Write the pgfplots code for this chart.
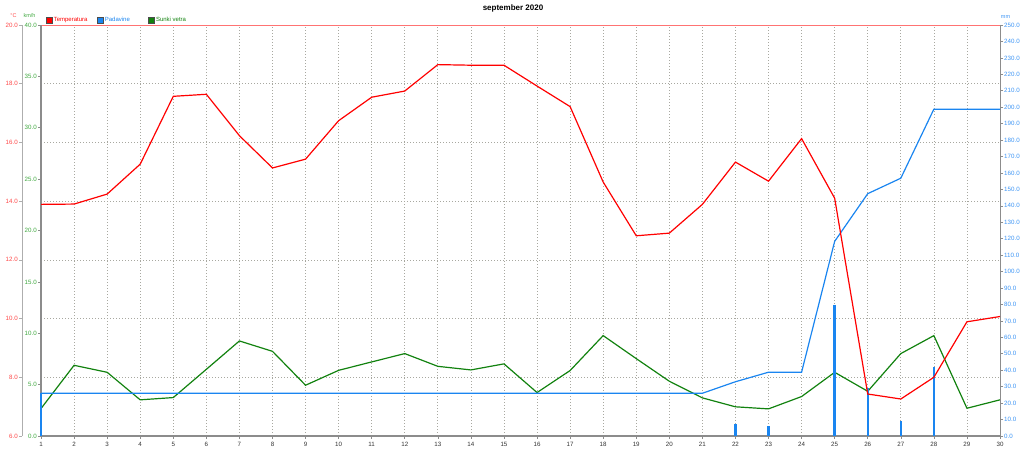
\documentclass[border=0pt]{standalone}
\usepackage{pgfplots}
\pgfplotsset{compat=1.18}
\usepackage{pgfplotstable}
\usepackage{fontspec}
\setmainfont{Liberation Sans}

\definecolor{tred}{HTML}{FF0000}
\definecolor{tredlab}{HTML}{FF4848}
\definecolor{wgreen}{HTML}{12820F}
\definecolor{wgreenlab}{HTML}{40A840}
\definecolor{pblue}{HTML}{1A85F0}
\definecolor{pbluelab}{HTML}{3D95F5}
\definecolor{axgray}{HTML}{8C8C8C}
\definecolor{gridgray}{HTML}{A8A8A0}

% daily temperature (C) and wind gusts (km/h)
\pgfplotstableread{
day temp wind
1  13.89 2.67
2  13.90 6.88
3  14.24 6.20
4  15.26 3.52
5  17.57 3.74
6  17.64 6.49
7  16.23 9.25
8  15.13 8.24
9  15.43 4.94
10 16.74 6.39
11 17.54 7.21
12 17.75 8.02
13 18.65 6.78
14 18.63 6.43
15 18.63 7.02
16 17.92 4.23
17 17.22 6.37
18 14.65 9.77
19 12.82 7.53
20 12.91 5.33
21 13.89 3.71
22 15.33 2.84
23 14.68 2.64
24 16.13 3.84
25 14.10 6.20
26 7.43  4.35
27 7.26  8.02
28 8.00  9.77
29 9.89  2.70
30 10.07 3.52
}\weather

% daily rain (mm)
\pgfplotstableread{
day mm
1  26.0
22 7.0
23 5.8
25 79.6
26 29.0
27 9.4
28 42.0
}\raindaily

% accumulated rain (mm)
\pgfplotstableread{
day cum
1  26.0
2  26.0
3  26.0
4  26.0
5  26.0
6  26.0
7  26.0
8  26.0
9  26.0
10 26.0
11 26.0
12 26.0
13 26.0
14 26.0
15 26.0
16 26.0
17 26.0
18 26.0
19 26.0
20 26.0
21 26.0
22 33.0
23 38.8
24 38.8
25 118.4
26 147.4
27 156.8
28 198.8
29 198.8
30 198.8
}\raincum

\pgfplotsset{
    base/.style={
        scale only axis,
        width=959pt, height=411pt,
        at={(0pt,0pt)}, anchor=south west,
        xmin=1, xmax=30,
        tick label style={font=\fontsize{6.2}{7}\selectfont},
        /pgf/number format/assume math mode=true,
    },
    onedec/.style={
        yticklabel style={/pgf/number format/fixed,
            /pgf/number format/fixed zerofill,
            /pgf/number format/precision=1},
    },
}

\begin{document}
\begin{tikzpicture}
\useasboundingbox (-41pt,-21pt) rectangle (983pt,436pt);

% frame, grid, day axis, legend
\begin{axis}[
    base,
    ymin=6, ymax=20,
    clip=false,
    axis line style={draw=none},
    xtick={1,...,30},
    xtick pos=lower,
    xtick align=outside,
    major tick length=2.5pt,
    x tick style={axgray, line width=0.6pt},
    xticklabel style={text=black!80},
    ytick={8,10,...,18},
    yticklabels={},
    y tick style={draw=none},
    xmajorgrids, ymajorgrids,
    major grid style={gridgray, line width=0.7pt, dash pattern=on 1pt off 2pt},
    legend style={at={(0,1)}, anchor=west, xshift=5pt, yshift=5pt,
        draw=none, fill=none, inner sep=0pt,
        font=\fontsize{6}{7}\selectfont,
        legend columns=-1,
        /tikz/every even column/.append style={column sep=0pt},
        nodes={inner sep=1.5pt}},
    legend image code/.code={\draw[#1, draw=black!70, line width=0.5pt] (0pt,-2.8pt) rectangle (5.6pt,2.8pt);},
]
\addlegendimage{fill=tred}
\addlegendentry{\makebox[42pt][l]{\color{tred}Temperatura}}
\addlegendimage{fill=pblue}
\addlegendentry{\makebox[42pt][l]{\color{pblue}Padavine}}
\addlegendimage{fill=wgreen}
\addlegendentry{\makebox[42pt][l]{\color{wgreen}Sunki vetra}}
\draw[tred!55, line width=0.6pt] (rel axis cs:0,1) -- (rel axis cs:1,1);
\draw[axgray, line width=1.8pt] (rel axis cs:0,0) -- (rel axis cs:1,0);
\end{axis}

% temperature scale (offset to the left)
\begin{axis}[
    scale only axis, width=1pt, height=411pt,
    at={(-19pt,0pt)}, anchor=south west,
    xmin=0, xmax=1, ymin=6, ymax=20,
    axis x line=none, xtick=\empty,
    axis y line*=left,
    y axis line style={axgray!70, line width=0.9pt},
    ytick={6,8,...,20},
    tick align=outside, major tick length=3pt,
    y tick style={axgray!70, line width=0.6pt},
    tick label style={font=\fontsize{6.2}{7}\selectfont},
    /pgf/number format/assume math mode=true,
    onedec,
    yticklabel style={text=tredlab, inner sep=1pt},
]
\end{axis}

% wind gusts, inner left axis
\begin{axis}[
    base,
    ymin=0, ymax=40,
    axis x line=none, xtick=\empty,
    axis y line*=left,
    y axis line style={axgray, line width=1.2pt},
    ytick={0,5,...,40},
    tick align=outside, major tick length=3pt,
    y tick style={axgray, line width=0.6pt},
    onedec,
    yticklabel style={text=wgreenlab, inner sep=1pt},
]
\addplot[wgreen, line width=1.2pt, no marks] table[x=day, y=wind]{\weather};
\end{axis}

% precipitation, right axis
\begin{axis}[
    base,
    ymin=0, ymax=250,
    clip=false,
    axis x line=none, xtick=\empty,
    axis y line*=right,
    y axis line style={axgray, line width=1pt},
    ytick={0,10,...,250},
    tick align=outside, major tick length=3pt,
    y tick style={axgray, line width=0.6pt},
    onedec,
    yticklabel style={text=pbluelab, inner sep=1pt},
]
\addplot[ycomb, pblue, line width=2.4pt, no marks] table[x=day, y=mm]{\raindaily};
\addplot[pblue, line width=1.2pt, no marks] table[x=day, y=cum]{\raincum};
\end{axis}

% temperature
\begin{axis}[base, ymin=6, ymax=20, hide axis]
\addplot[tred, line width=1.2pt, no marks] table[x=day, y=temp]{\weather};
\end{axis}

\node[font=\fontsize{8}{9}\selectfont\bfseries] at (472pt,428pt) {september 2020};
\node[font=\fontsize{5.5}{6}\selectfont, text=tredlab] at (-27.5pt,420pt) {°C};
\node[font=\fontsize{5.5}{6}\selectfont, text=wgreenlab] at (-11.5pt,420pt) {km/h};
\node[font=\fontsize{5.5}{6}\selectfont, text=pbluelab] at (964.5pt,419pt) {mm};
\end{tikzpicture}
\end{document}
